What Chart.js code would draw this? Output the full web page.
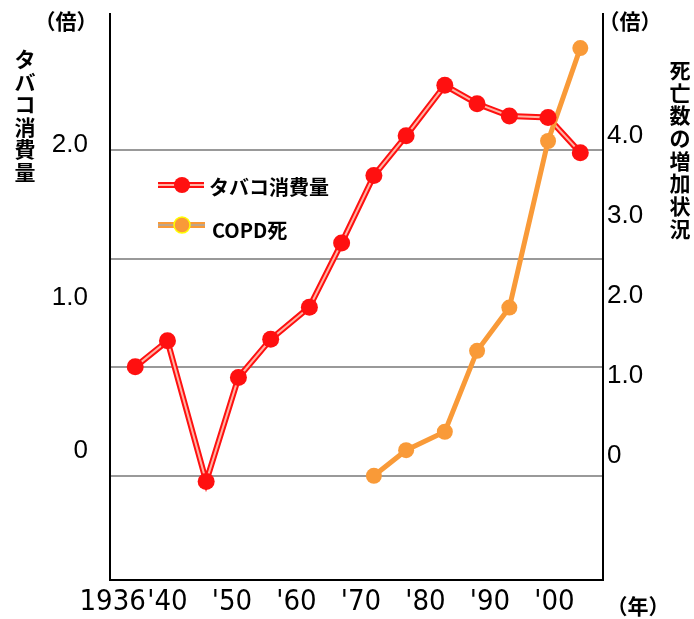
<!DOCTYPE html>
<html>
<head>
<meta charset="utf-8">
<script src="https://cdn.jsdelivr.net/npm/chart.js@4.4.1/dist/chart.umd.min.js"></script>
<style>
  html, body { margin: 0; padding: 0; background: #fff; }
  canvas { display: block; }
</style>
</head>
<body>
<canvas id="c" width="694" height="619"></canvas>
<script>
// Tobacco consumption and COPD deaths, both as ratios, by year
const years = [1935, 1940, 1946, 1951, 1956, 1962, 1967, 1972, 1977, 1983, 1988, 1993, 1999, 2004];
const tobacco = [0.55, 0.72, -0.20, 0.48, 0.73, 0.94, 1.36, 1.80, 2.06, 2.39, 2.27, 2.19, 2.18, 1.95];
const copdYears = [1972, 1977, 1983, 1988, 1993, 1999, 2004];
const copd = [-0.25, 0.07, 0.30, 1.31, 1.85, 3.93, 5.09];

const xTickYears = [1936, 1940, 1950, 1960, 1970, 1980, 1990, 2000];
const xTickLabels = ['1936', "'40", "'50", "'60", "'70", "'80", "'90", "'00"];
const leftTicks = [0, 1, 2];
const leftTickLabels = ['0', '1.0', '2.0'];
const rightTicks = [0, 1, 2, 3, 4];
const rightTickLabels = ['0', '1.0', '2.0', '3.0', '4.0'];
const gridLevels = [0, 1, 2, 3];
const seriesNames = ['タバコ消費量', 'COPD死'];
const leftTitle = 'タバコ消費量';
const rightTitle = '死亡数の増加状況';
const unitRatio = '（倍）';
const unitYear = '（年）';

const RED = '#ff1010';
const PINK = '#ffb4a4';
const ORANGE = '#f99a38';
const JP = '"Noto Sans CJK JP", "Noto Sans CJK SC", sans-serif';
const NUM = '"Liberation Sans", Arial, sans-serif';
const NARROW = '"DejaVu Sans Condensed", "Liberation Sans", sans-serif';

const tobaccoPts = years.map((x, i) => ({ x, y: tobacco[i] }));
const copdPts = copdYears.map((x, i) => ({ x, y: copd[i] }));

const setTicks = values => scale => { scale.ticks = values.map(v => ({ value: v })); };
// fixed axis sizes, no extra room reserved for overhanging labels
const fixWidth = w => s => { s.width = w; s.paddingTop = 0; s.paddingBottom = 0; };
const fixHeight = h => s => { s.height = h; s.paddingLeft = 0; s.paddingRight = 0; };

// Titles, unit marks and the legend box drawn over the plot
const decorations = {
  id: 'decorations',
  afterDraw(chart) {
    const ctx = chart.ctx;
    ctx.save();
    ctx.fillStyle = '#000';
    ctx.textAlign = 'center';
    ctx.textBaseline = 'middle';
    ctx.font = 'bold 21px ' + JP;
    [...leftTitle].forEach((ch, i) => ctx.fillText(ch, 25, 59 + i * 22.6));
    [...rightTitle].forEach((ch, i) => ctx.fillText(ch, 680, 70 + i * 22.7));
    ctx.fillText(unitRatio, 66, 21);
    ctx.fillText(unitRatio, 630, 21);
    ctx.fillText(unitYear, 638, 606);

    // legend: tobacco
    ctx.lineCap = 'butt';
    ctx.strokeStyle = RED; ctx.lineWidth = 6;
    ctx.beginPath(); ctx.moveTo(158, 185); ctx.lineTo(204, 185); ctx.stroke();
    ctx.strokeStyle = PINK; ctx.lineWidth = 2;
    ctx.beginPath(); ctx.moveTo(158, 185); ctx.lineTo(204, 185); ctx.stroke();
    ctx.fillStyle = RED;
    ctx.beginPath(); ctx.arc(182, 185, 8, 0, Math.PI * 2); ctx.fill();
    // legend: COPD
    ctx.strokeStyle = ORANGE; ctx.lineWidth = 6;
    ctx.beginPath(); ctx.moveTo(158, 225); ctx.lineTo(205, 225); ctx.stroke();
    ctx.strokeStyle = '#a8a8a8'; ctx.lineWidth = 1.5;
    ctx.beginPath(); ctx.moveTo(158, 225); ctx.lineTo(205, 225); ctx.stroke();
    ctx.fillStyle = ORANGE;
    ctx.beginPath(); ctx.arc(182, 225, 8, 0, Math.PI * 2); ctx.fill();
    ctx.strokeStyle = '#ffff00'; ctx.lineWidth = 1.5; ctx.stroke();

    ctx.fillStyle = '#000';
    ctx.textAlign = 'left';
    ctx.font = 'bold 20px ' + JP;
    ctx.fillText(seriesNames[0], 209, 187);
    ctx.fillText(seriesNames[1], 212, 230);
    ctx.restore();
  }
};

new Chart(document.getElementById('c'), {
  type: 'line',
  data: {
    datasets: [
      { label: seriesNames[0], data: tobaccoPts, yAxisID: 'y', borderColor: RED, borderWidth: 6,
        pointRadius: 0, tension: 0, order: 5 },
      { label: seriesNames[0], data: tobaccoPts, yAxisID: 'y', borderColor: PINK, borderWidth: 2,
        pointRadius: 0, tension: 0, order: 4 },
      { label: seriesNames[1], data: copdPts, yAxisID: 'y2', borderColor: ORANGE, borderWidth: 5,
        pointRadius: 8, pointBackgroundColor: ORANGE, pointBorderWidth: 0, tension: 0, order: 3 },
      { label: seriesNames[0], data: tobaccoPts, yAxisID: 'y', showLine: false,
        pointRadius: 8.5, pointBackgroundColor: RED, pointBorderWidth: 0, order: 1 }
    ]
  },
  options: {
    responsive: false,
    devicePixelRatio: 1,
    animation: false,
    events: [],
    layout: { padding: { top: 14, left: 0, right: 0, bottom: 0 } },
    plugins: { legend: { display: false }, tooltip: { enabled: false } },
    scales: {
      x: {
        type: 'linear', position: 'bottom', min: 1931.09, max: 2007.52,
        afterBuildTicks: setTicks(xTickYears),
        afterFit: fixHeight(39),
        grid: { display: false, drawTicks: false },
        border: { display: true, color: '#000', width: 2 },
        ticks: {
          autoSkip: false, maxRotation: 0, minRotation: 0, padding: 5, color: '#000',
          font: { family: NARROW, size: 29 },
          callback: (v, i) => i === 0 ? xTickLabels[i] + '       ' : xTickLabels[i]
        }
      },
      yg: {
        type: 'linear', position: 'left', min: -0.957, max: 4.2514,
        afterBuildTicks: setTicks(gridLevels),
        afterFit: fixWidth(0),
        grid: { display: true, color: '#999999', lineWidth: 2, drawTicks: false },
        border: { display: false },
        ticks: { display: false }
      },
      y: {
        type: 'linear', position: 'left', min: -0.8431, max: 2.8562,
        afterBuildTicks: setTicks(leftTicks),
        afterFit: fixWidth(110),
        grid: { display: false, drawTicks: false },
        border: { display: true, color: '#000', width: 2 },
        ticks: { padding: 22, color: '#000', font: { family: NUM, size: 26 },
                 callback: (v, i) => leftTickLabels[i] }
      },
      y2: {
        type: 'linear', position: 'right', min: -1.5506, max: 5.5156,
        afterBuildTicks: setTicks(rightTicks),
        afterFit: fixWidth(91),
        grid: { display: false, drawTicks: false },
        border: { display: true, color: '#000', width: 2 },
        ticks: { padding: 4, color: '#000', font: { family: NUM, size: 26 },
                 callback: (v, i) => rightTickLabels[i] }
      }
    }
  },
  plugins: [decorations]
});
</script>
</body>
</html>
